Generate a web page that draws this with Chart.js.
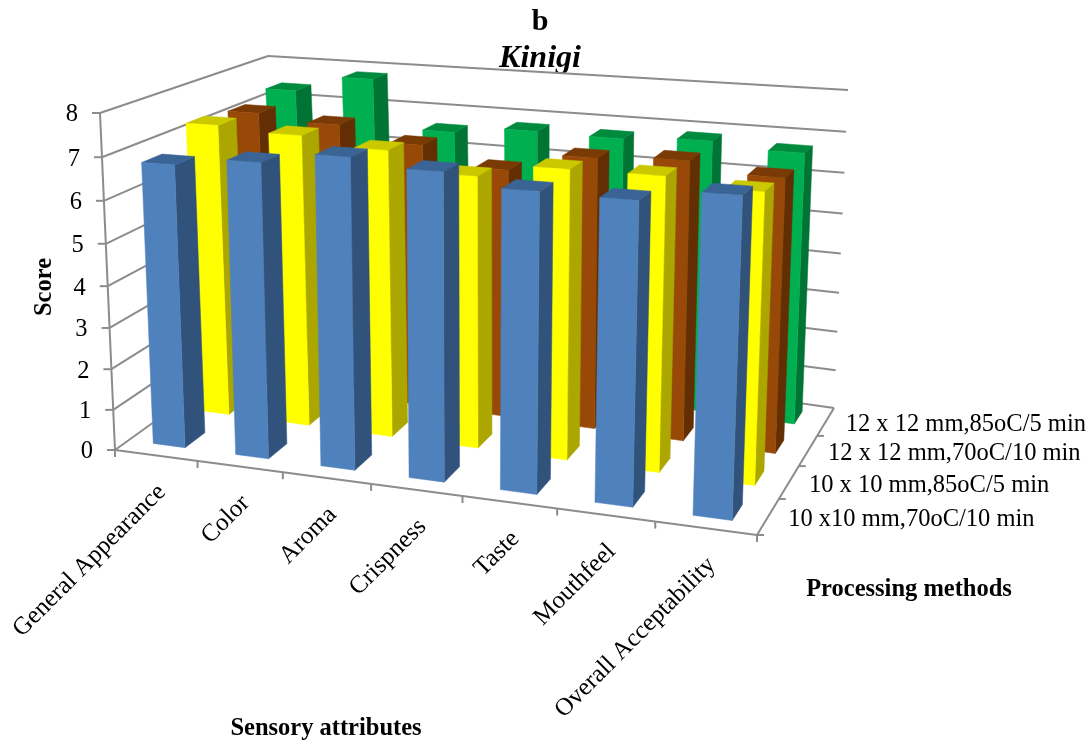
<!DOCTYPE html>
<html lang="en">
<head>
  <meta charset="UTF-8">
  <title>Kinigi sensory scores</title>
  <style>
    body { margin: 0; background: #fff; }
    canvas { display: block; }
  </style>
</head>
<body>
  <canvas id="myChart" width="1092" height="744"></canvas>
  <script src="https://cdn.jsdelivr.net/npm/chart.js"></script>
  <script>
    const attributes = ['General Appearance', 'Color', 'Aroma', 'Crispness', 'Taste', 'Mouthfeel', 'Overall Acceptability'];
    const methods = ['10 x10 mm,70oC/10 min', '10 x 10 mm,85oC/5 min', '12 x 12 mm,70oC/10 min', '12 x 12 mm,85oC/5 min'];
    const score10x70 = [6.8, 7.0, 7.27, 7.1, 6.83, 6.8, 7.07];
    const score10x85 = [7.3, 7.2, 7.0, 6.55, 6.87, 6.88, 6.7];
    const score12x70 = [7.2, 7.05, 6.7, 6.25, 6.7, 6.8, 6.57];
    const score12x85 = [7.4, 7.83, 6.6, 6.78, 6.75, 6.85, 6.72];

    // front, side, top shades per row
    const shades = [
      ['#4f81bd', '#31527b', '#3a6496'],
      ['#ffff00', '#aba600', '#ccc800'],
      ['#984807', '#632e03', '#7a3a05'],
      ['#00b050', '#007434', '#008a3e']
    ];

    // corners of the 3D box on screen, floor then top
    const box = {
      fl0: [115, 450], fr0: [757, 535], bl0: [282, 330], br0: [834, 408],
      fl1: [100, 113], fr1: [770, 158], bl1: [268, 56], br1: [848, 90]
    };
    const kU = 1.13, kV = 1.057, kW = 0.844;
    const barDepth = 0.44;

    function persp(t, k) { return t / (t + k * (1 - t)); }
    function mix(a, b, t) { return [a[0] + (b[0] - a[0]) * t, a[1] + (b[1] - a[1]) * t]; }

    function project(u, v, w) {
      const a = persp(u, kU), b = persp(v, kV), c = persp(w, kW);
      const floor = mix(mix(box.fl0, box.fr0, a), mix(box.bl0, box.br0, a), c);
      const top = mix(mix(box.fl1, box.fr1, a), mix(box.bl1, box.br1, a), c);
      return mix(floor, top, b);
    }

    function poly(ctx, pts, fill) {
      ctx.beginPath();
      pts.forEach(function (p, i) { i ? ctx.lineTo(p[0], p[1]) : ctx.moveTo(p[0], p[1]); });
      ctx.closePath();
      ctx.fillStyle = fill;
      ctx.fill();
      ctx.strokeStyle = fill;
      ctx.lineWidth = 0.5;
      ctx.stroke();
    }

    function seg(ctx, a, b) {
      ctx.beginPath();
      ctx.moveTo(a[0], a[1]);
      ctx.lineTo(b[0], b[1]);
      ctx.stroke();
    }

    const box3d = {
      id: 'box3d',
      beforeDatasetsDraw(chart) {
        const ctx = chart.ctx, sx = chart.scales.x, sy = chart.scales.y, sz = chart.scales.z;
        const normY = function (px) { return (sy.bottom - px) / (sy.bottom - sy.top); };
        const normX = function (px) { return (px - sx.left) / (sx.right - sx.left); };
        const normZ = function (px) { return (px - sz.left) / (sz.right - sz.left); };

        ctx.save();
        // walls
        ctx.strokeStyle = '#8c8c8c';
        ctx.lineWidth = 2;
        sy.ticks.forEach(function (t) {
          const v = normY(sy.getPixelForValue(t.value));
          seg(ctx, project(0, v, 0), project(0, v, 1));
          seg(ctx, project(0, v, 1), project(1, v, 1));
        });
        seg(ctx, project(0, 0, 0), project(0, 1, 0));
        seg(ctx, project(0, 0, 0), project(1, 0, 0));
        seg(ctx, project(1, 0, 0), project(1, 0, 1));

        // tick marks
        sy.ticks.forEach(function (t) {
          const p = project(0, normY(sy.getPixelForValue(t.value)), 0);
          seg(ctx, p, [p[0] - 8, p[1]]);
        });
        attributes.forEach(function (a, i) {
          const p = project(i / attributes.length, 0, 0);
          seg(ctx, p, [p[0], p[1] + 7]);
        });
        seg(ctx, project(1, 0, 0), [project(1, 0, 0)[0], project(1, 0, 0)[1] + 7]);
        methods.forEach(function (m, i) {
          const p = project(1, 0, i / methods.length);
          seg(ctx, p, [p[0] + 7, p[1]]);
        });

        // bars, far rows first, left to right
        for (let d = chart.data.datasets.length - 1; d >= 0; d--) {
          const meta = chart.getDatasetMeta(d);
          const wc = normZ(sz.getPixelForValue(d));
          const half = barDepth / methods.length / 2;
          const c = shades[d];
          meta.data.forEach(function (bar) {
            const u0 = normX(bar.x - bar.width / 2), u1 = normX(bar.x + bar.width / 2);
            const v0 = normY(bar.base), v1 = normY(bar.y);
            const w0 = wc - half, w1 = wc + half;
            poly(ctx, [project(u1, v0, w0), project(u1, v0, w1), project(u1, v1, w1), project(u1, v1, w0)], c[1]);
            poly(ctx, [project(u0, v1, w0), project(u1, v1, w0), project(u1, v1, w1), project(u0, v1, w1)], c[2]);
            poly(ctx, [project(u0, v0, w0), project(u1, v0, w0), project(u1, v1, w0), project(u0, v1, w0)], c[0]);
          });
        }

        // labels
        ctx.fillStyle = '#000';
        ctx.font = '24.5px "Liberation Serif"';
        ctx.textAlign = 'right';
        ctx.textBaseline = 'middle';
        sy.ticks.forEach(function (t) {
          const p = project(0, normY(sy.getPixelForValue(t.value)), 0);
          ctx.fillText(t.label, p[0] - 22, p[1] + 2);
        });
        ctx.font = '25px "Liberation Serif"';
        sx.ticks.forEach(function (t, i) {
          const p = project((i + 0.5) / attributes.length, 0, 0);
          ctx.save();
          ctx.translate(p[0] + 6, p[1] + 33);
          ctx.rotate(-Math.PI / 4);
          ctx.fillText(attributes[t.value], 0, 0);
          ctx.restore();
        });
        ctx.font = '24.5px "Liberation Serif"';
        ctx.textAlign = 'left';
        methods.forEach(function (m, i) {
          const p = project(1, 0, (i + 0.5) / methods.length);
          ctx.fillText(m, p[0] + 20, p[1] + 3);
        });

        ctx.font = 'bold 24.5px "Liberation Serif"';
        ctx.textAlign = 'center';
        ctx.fillText('Sensory attributes', 326, 729);
        ctx.fillText('Processing methods', 909, 590);
        ctx.save();
        ctx.translate(45, 287);
        ctx.rotate(-Math.PI / 2);
        ctx.fillText('Score', 0, 0);
        ctx.restore();
        ctx.restore();
        return false;
      }
    };

    new Chart(document.getElementById('myChart'), {
      type: 'bar',
      data: {
        labels: attributes,
        datasets: [
          { label: methods[0], data: score10x70, backgroundColor: shades[0][0] },
          { label: methods[1], data: score10x85, backgroundColor: shades[1][0] },
          { label: methods[2], data: score12x70, backgroundColor: shades[2][0] },
          { label: methods[3], data: score12x85, backgroundColor: shades[3][0] }
        ]
      },
      options: {
        responsive: false,
        animation: false,
        layout: { padding: { right: 12 } },
        datasets: { bar: { grouped: false, categoryPercentage: 0.39, barPercentage: 1 } },
        plugins: {
          legend: { display: false },
          tooltip: { enabled: false },
          title: { display: true, text: 'b', color: '#000', font: { family: 'Liberation Serif', size: 30, weight: 'bold' }, padding: { top: 4, bottom: 0 } },
          subtitle: { display: true, text: 'Kinigi', color: '#000', font: { family: 'Liberation Serif', size: 32, weight: 'bold', style: 'italic' }, padding: { top: 0, bottom: 0 } }
        },
        scales: {
          x: { type: 'category', display: false, offset: true },
          y: { type: 'linear', display: false, min: 0, max: 8, ticks: { stepSize: 1 } },
          z: { type: 'category', axis: 'x', display: false, labels: methods, offset: true, position: 'bottom' }
        }
      },
      plugins: [box3d]
    });
  </script>
</body>
</html>
